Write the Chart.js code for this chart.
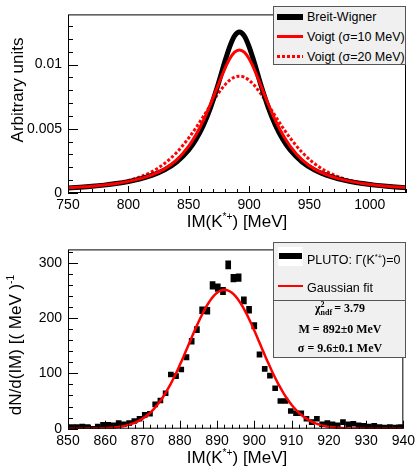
<!DOCTYPE html>
<html>
<head>
<meta charset="utf-8">
<script src="https://cdn.jsdelivr.net/npm/chart.js@4.4.1/dist/chart.umd.min.js"></script>
<style>
  html, body { margin: 0; padding: 0; background: #fff; }
  #wrap { position: relative; width: 419px; height: 467px; overflow: hidden;
          font-family: "Liberation Sans", Arial, Helvetica, sans-serif; color: #000; }
  canvas { position: absolute; left: 0; }
  .t { position: absolute; white-space: nowrap; line-height: 1; }
  .c { transform: translate(-50%, -50%); }
  .r { transform: translate(-50%, -50%) rotate(-90deg); }
  .ttl { font-size: 17px; }
  .ttl sup { font-size: 0.6em; vertical-align: 0.75em; }
  .box { position: absolute; box-sizing: border-box; border: 1px solid #555; background: #f0f0f0; }
  .lg { font-size: 12.5px; }
  .lg sup { font-size: 0.6em; vertical-align: 0.7em; }
  .sample { position: absolute; }
  .stat { font-family: "Liberation Serif", "Times New Roman", serif; font-weight: bold; font-size: 12px; }
  .stk { display: inline-block; vertical-align: middle; font-size: 8px; line-height: 0.95; text-align: left; margin-right: 2px; }
  .stk span { display: block; }
</style>
</head>
<body>
<div id="wrap">
  <canvas id="top" width="419" height="235" style="top:0"></canvas>
  <canvas id="bot" width="419" height="232" style="top:235px"></canvas>

  <!-- axis titles -->
  <div class="t ttl c" style="left:237px; top:221px">IM(K<sup>*+</sup>) [MeV]</div>
  <div class="t ttl r" style="left:17px; top:90px">Arbitrary units</div>
  <div class="t ttl c" style="left:237px; top:457px">IM(K<sup>*+</sup>) [MeV]</div>
  <div class="t ttl r" style="left:15px; top:345px">dN/d(IM) [( MeV )<sup>-1</sup></div>

  <!-- legend, line shapes -->
  <div class="box" style="left:273px; top:6px; width:133px; height:59px;"></div>
  <div class="sample" style="left:277px; top:14px; width:26px; height:6px; background:#000"></div>
  <div class="t lg" style="left:307px; top:11px">Breit-Wigner</div>
  <div class="sample" style="left:277px; top:35px; width:26px; height:3px; background:#ff0000"></div>
  <div class="t lg" style="left:307px; top:31px">Voigt (σ=10 MeV)</div>
  <div class="sample" style="left:277px; top:55px; width:26px; height:3px; background:repeating-linear-gradient(90deg,#ff0000 0 3px,transparent 3px 5px)"></div>
  <div class="t lg" style="left:307px; top:51px">Voigt (σ=20 MeV)</div>

  <!-- legend and fit results, simulation -->
  <div class="box" style="left:273px; top:242px; width:133px; height:59px;"></div>
  <div class="sample" style="left:278px; top:247px; width:25px; height:19px; background:#fff"></div>
  <div class="sample" style="left:279px; top:253px; width:23px; height:6px; background:#000"></div>
  <div class="t lg" style="left:307px; top:253px">PLUTO: Γ(K<sup>*+</sup>)=0</div>
  <div class="sample" style="left:278px; top:285px; width:25px; height:2px; background:#ff0000"></div>
  <div class="t lg" style="left:307px; top:282px">Gaussian fit</div>
  <div class="box" style="left:273px; top:300px; width:133px; height:58px;"></div>
  <div class="t stat c" style="left:340px; top:309px">χ<span class="stk"><span>2</span><span>ndf</span></span>= 3.79</div>
  <div class="t stat c" style="left:340px; top:329px">M = 892±0 MeV</div>
  <div class="t stat c" style="left:340px; top:348px">σ = 9.6±0.1 MeV</div>
</div>

<script>
// ---- line shapes (upper panel) ----
const massGrid = [750, 760, 770, 780, 790, 800, 810, 820, 830, 840, 850, 856, 862, 868, 874, 880, 884, 888,
                  892, 896, 900, 904, 910, 916, 922, 928, 934, 944, 954, 964, 974, 984, 994, 1004, 1014, 1024, 1034];
const breitWigner = [0.000389, 0.000448, 0.000521, 0.000613, 0.000732, 0.000888, 0.001097, 0.001387, 0.001801,
                     0.002414, 0.003356, 0.004165, 0.005232, 0.006621, 0.008342, 0.010247, 0.011400, 0.012231,
                     0.012531,
                     0.012231, 0.011400, 0.010247, 0.008342, 0.006621, 0.005232, 0.004165, 0.003356, 0.002414,
                     0.001801, 0.001387, 0.001097, 0.000888, 0.000732, 0.000613, 0.000521, 0.000448, 0.000389];
const voigt10 = [0.000400, 0.000460, 0.000534, 0.000627, 0.000746, 0.000903, 0.001117, 0.001422, 0.001878,
                 0.002581, 0.003656, 0.004537, 0.005621, 0.006901, 0.008312, 0.009687, 0.010445, 0.010957,
                 0.011138,
                 0.010957, 0.010445, 0.009687, 0.008312, 0.006901, 0.005621, 0.004537, 0.003656, 0.002581,
                 0.001878, 0.001422, 0.001117, 0.000903, 0.000746, 0.000627, 0.000534, 0.000460, 0.000400];
const voigt20 = [0.000412, 0.000473, 0.000548, 0.000648, 0.000784, 0.000978, 0.001263, 0.001686, 0.002300,
                 0.003156, 0.004281, 0.005077, 0.005941, 0.006832, 0.007687, 0.008416, 0.008780, 0.009012,
                 0.009092,
                 0.009012, 0.008780, 0.008416, 0.007687, 0.006832, 0.005941, 0.005077, 0.004281, 0.003156,
                 0.002300, 0.001686, 0.001263, 0.000978, 0.000784, 0.000648, 0.000548, 0.000473, 0.000412];
const topXTicks = [750, 800, 850, 900, 950, 1000];
const topYTicks = [0, 0.005, 0.01];

// ---- simulated spectrum (lower panel) ----
const binCenters = [851.0, 852.4, 853.8, 855.2, 856.6, 858.0, 859.4, 860.8, 862.2, 863.6, 865.0, 866.4, 867.8,
                    869.2, 870.6, 872.0, 873.4, 874.8, 876.2, 877.6, 879.0, 880.4, 881.8, 883.2, 884.6, 886.0,
                    887.4, 888.8, 890.2, 891.6, 893.0, 894.4, 895.8, 897.2, 898.6, 900.0, 901.4, 902.8, 904.2,
                    905.6, 907.0, 908.4, 909.8, 911.2, 912.6, 914.0, 915.4, 916.8, 918.2, 919.6, 921.0, 922.4,
                    923.8, 925.2, 926.6, 928.0, 929.4, 930.8, 932.2, 933.6, 935.0, 936.4, 937.8, 939.2];
const counts = [3, 3, 4, 3, 0, 4, 7, 7, 6, 10, 8, 10, 14,
                18, 25, 27, 44, 51, 64, 98, 95, 107, 129, 158, 179, 214,
                213, 259, 255, 249, 296, 272, 273, 232, 215, 186, 134, 108, 96,
                73, 50, 50, 32, 28, 28, 18, 12, 18, 8, 10, 8, 6,
                12, 8, 9, 6, 5, 4, 5, 3, 2, 3, 2, 3];
const botXTicks = [850, 860, 870, 880, 890, 900, 910, 920, 930, 940];
const botYTicks = [0, 100, 200, 300];

// Gaussian fit result
const fitMean = 892, fitSigma = 9.6, fitAmp = 251;

// ---- helpers ----
const pts = (xs, ys) => xs.map((x, i) => ({ x, y: ys[i] }));
// statistical error of each bin (weighted events), with a minimum marker size
const errBars = binCenters.map((x, i) => {
  const e = Math.max(4.5, 0.42 * Math.sqrt(counts[i]));
  return { x, y: [counts[i] - e, counts[i] + e] };
});
const fitX = [];
for (let m = 850; m <= 940; m += 0.5) fitX.push(m);
const fitCurve = fitX.map(x => ({ x, y: fitAmp * Math.exp(-0.5 * ((x - fitMean) / fitSigma) ** 2) }));

// frame box with inward ticks
const frameTicks = {
  id: 'frameTicks',
  afterDraw(chart, args, o) {
    const { ctx, chartArea: a, scales: { x, y } } = chart;
    ctx.save();
    ctx.strokeStyle = '#000';
    ctx.lineWidth = 1;
    ctx.strokeRect(a.left + 0.5, a.top + 0.5, a.right - a.left - 1, a.bottom - a.top - 1);
    ctx.beginPath();
    const nx = Math.round((x.max - x.min) / o.xMinor);
    for (let i = 0; i <= nx; i++) {
      const v = x.min + i * o.xMinor;
      const major = Math.abs(v / o.xMajor - Math.round(v / o.xMajor)) < 1e-6;
      const px = Math.round(x.getPixelForValue(v)) + 0.5;
      ctx.moveTo(px, a.bottom);
      ctx.lineTo(px, a.bottom - (major ? o.xMajLen : o.xMinLen));
    }
    const ny = Math.floor((y.max - y.min) / o.yMinor + 1e-6);
    for (let i = 0; i <= ny; i++) {
      const v = y.min + i * o.yMinor;
      const major = Math.abs(v / o.yMajor - Math.round(v / o.yMajor)) < 1e-6;
      const py = Math.round(y.getPixelForValue(v)) + 0.5;
      ctx.moveTo(a.left, py);
      ctx.lineTo(a.left + (major ? o.yMajLen : o.yMinLen), py);
    }
    ctx.stroke();
    ctx.restore();
  }
};

Chart.defaults.font.family = '"Liberation Sans", Arial, Helvetica, sans-serif';
Chart.defaults.color = '#000';

function axes(xr, yr, xt, yt, yWidth, xHeight, yFmt) {
  return {
    x: {
      type: 'linear', min: xr[0], max: xr[1], offset: false,
      grid: { display: false, drawTicks: false },
      border: { display: false },
      afterBuildTicks: s => { s.ticks = xt.map(v => ({ value: v })); },
      afterFit: s => { s.height = xHeight; },
      ticks: { padding: 4, font: { size: 14 }, maxRotation: 0, autoSkip: false, callback: v => String(v) }
    },
    y: {
      type: 'linear', min: yr[0], max: yr[1],
      grid: { display: false, drawTicks: false },
      border: { display: false },
      afterBuildTicks: s => { s.ticks = yt.map(v => ({ value: v })); },
      afterFit: s => { s.width = yWidth; },
      ticks: { padding: 6, font: { size: 14 }, autoSkip: false, callback: yFmt }
    }
  };
}

new Chart(document.getElementById('top'), {
  type: 'line',
  data: {
    datasets: [
      { label: 'Voigt (σ=20 MeV)', data: pts(massGrid, voigt20), borderColor: '#ff0000', borderWidth: 3,
        borderDash: [3, 2], pointRadius: 0, cubicInterpolationMode: 'monotone', order: 3 },
      { label: 'Breit-Wigner', data: pts(massGrid, breitWigner), borderColor: '#000', borderWidth: 5,
        pointRadius: 0, cubicInterpolationMode: 'monotone', order: 2 },
      { label: 'Voigt (σ=10 MeV)', data: pts(massGrid, voigt10), borderColor: '#ff0000', borderWidth: 3,
        pointRadius: 0, cubicInterpolationMode: 'monotone', order: 1 }
    ]
  },
  options: {
    responsive: false, animation: false, devicePixelRatio: 1,
    layout: { padding: { top: 6, right: 13, left: 0, bottom: 0 } },
    plugins: {
      legend: { display: false }, tooltip: { enabled: false },
      frameTicks: { xMinor: 10, xMajor: 50, xMajLen: 7, xMinLen: 4,
                    yMinor: 0.001, yMajor: 0.005, yMajLen: 10, yMinLen: 5 }
    },
    scales: axes([750, 1030], [0, 0.0139], topXTicks, topYTicks, 68, 42, v => String(v))
  },
  plugins: [frameTicks]
});

new Chart(document.getElementById('bot'), {
  type: 'bar',
  data: {
    datasets: [
      { type: 'line', label: 'Gaussian fit', data: fitCurve, borderColor: '#ff0000', borderWidth: 2.5,
        pointRadius: 0, order: 0 },
      { type: 'bar', label: 'PLUTO', data: errBars, backgroundColor: '#000', borderWidth: 0,
        barThickness: 5, grouped: false, order: 1 }
    ]
  },
  options: {
    responsive: false, animation: false, devicePixelRatio: 1,
    layout: { padding: { top: 7.7, right: 13, left: 0, bottom: 0 } },
    plugins: {
      legend: { display: false }, tooltip: { enabled: false },
      frameTicks: { xMinor: 2, xMajor: 10, xMajLen: 8, xMinLen: 4,
                    yMinor: 20, yMajor: 100, yMajLen: 10, yMinLen: 5 }
    },
    scales: axes([850, 940], [0, 324], botXTicks, botYTicks, 68, 38.3, v => String(v))
  },
  plugins: [frameTicks]
});
</script>
</body>
</html>
